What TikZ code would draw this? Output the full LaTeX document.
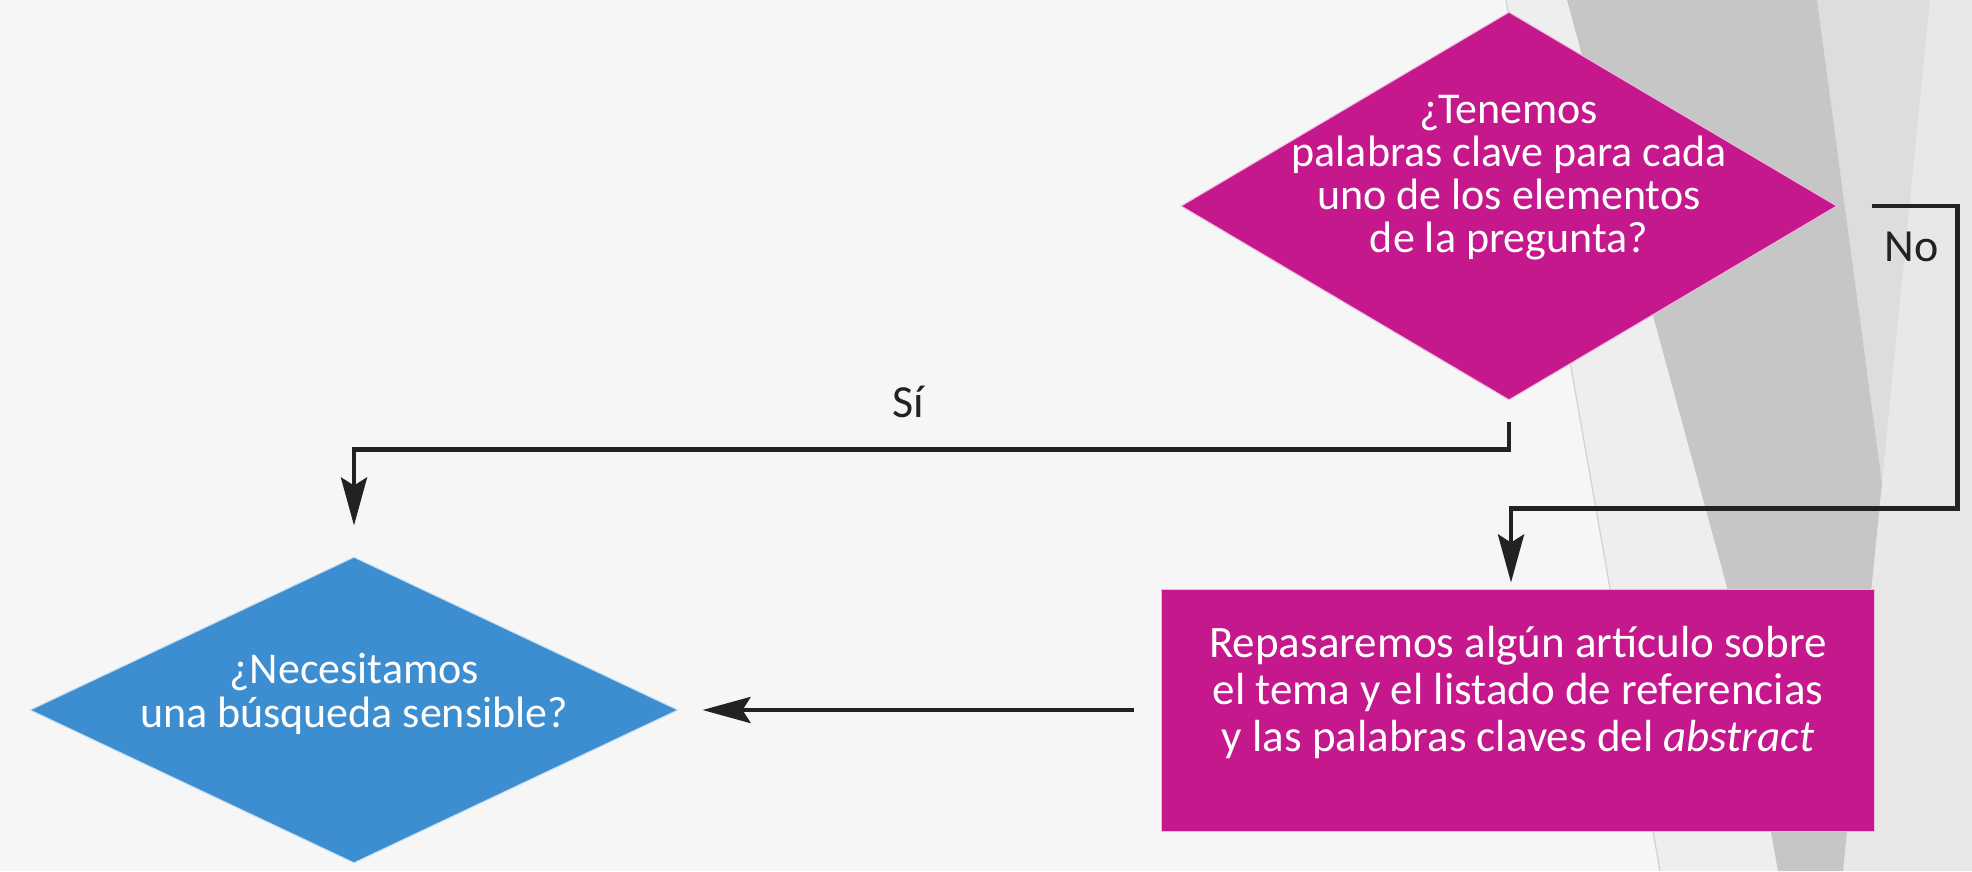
\documentclass[tikz,border=0pt]{standalone}
\usepackage{fontspec}
\setmainfont{Carlito}
\usetikzlibrary{shapes.geometric,arrows.meta,positioning}
\definecolor{magentabox}{RGB}{196,24,140}
\definecolor{bluedec}{RGB}{60,142,208}
\definecolor{linegray}{RGB}{34,34,34}
\definecolor{bgmain}{RGB}{246,246,246}
\definecolor{bglight}{RGB}{238,238,238}
\definecolor{bgband}{RGB}{221,221,221}
\definecolor{bgright}{RGB}{232,232,232}
\definecolor{bgdark}{RGB}{198,198,198}
\tikzset{
  decision/.style={diamond, inner sep=0pt, line width=1pt},
  qtext/.style={text=white, align=center, font=\fontsize{44pt}{43pt}\selectfont},
  flow/.style={draw=linegray, line width=4.5pt, -{Stealth[length=48pt,width=26pt,inset=8pt]}},
  lbl/.style={text=linegray, inner sep=0pt, font=\fontsize{46pt}{50pt}\selectfont}
}

\begin{document}
\begin{tikzpicture}[x=1pt,y=-1pt]
\useasboundingbox (0,0) rectangle (1972,871);

% background facets
\fill[bgmain] (0,0) rectangle (1972,871);
\fill[bglight] (1506,0) -- (1972,0) -- (1972,871) -- (1660,871) -- cycle;
\fill[bgright] (1930,0) -- (1972,0) -- (1972,871) -- (1843,871) -- (1882,483) -- cycle;
\fill[bgband] (1817,0) -- (1930,0) -- (1882,483) -- cycle;
\fill[bgdark] (1567,0) -- (1817,0) -- (1882,483) -- (1843,871) -- (1778,871) -- (1727,587) -- cycle;
\draw[bgdark!80, line width=1.2pt] (1506,0) -- (1660,871);

% decisions and step
\node[decision, fill=magentabox, draw=white!70!magentabox, minimum width=656pt, minimum height=388pt,
  label={[qtext, yshift=28pt]center:{¿Tenemos\\palabras clave para cada\\uno de los elementos\\de la pregunta?}}]
  (q1) at (1509,206) {};
\node[decision, fill=bluedec, draw=white!70!bluedec, minimum width=648pt, minimum height=306pt,
  label={[qtext, font=\fontsize{44pt}{44pt}\selectfont, yshift=16pt]center:{¿Necesitamos\\una búsqueda sensible?}}]
  (q2) at (354,710) {};
\node[fill=magentabox, draw=white!70!magentabox, line width=1pt, minimum width=713pt, minimum height=242pt,
  label={[qtext, font=\fontsize{45pt}{47pt}\selectfont, yshift=18pt]center:{Repasaremos algún artículo sobre\\el tema y el listado de referencias\\y las palabras claves del \textit{abstract}}}]
  (rev) at (1518,710) {};

% connectors
\draw[flow, shorten <=21pt, shorten >=31pt] (q1.south) -- ++(0,49) -| node[lbl, pos=0.26, anchor=south, yshift=29pt] {Sí} (q2.north);
\draw[flow, shorten <=34pt, shorten >=6pt] (q1.east) -- ++(120,0) node[lbl, anchor=north east, xshift=-17pt, yshift=-24pt] {No}
  |- ([xshift=-7pt, yshift=80pt]rev.north) -- ([xshift=-7pt]rev.north);
\draw[flow, shorten <=27pt, shorten >=24pt] (rev.west) -- (q2.east);
\end{tikzpicture}
\end{document}
